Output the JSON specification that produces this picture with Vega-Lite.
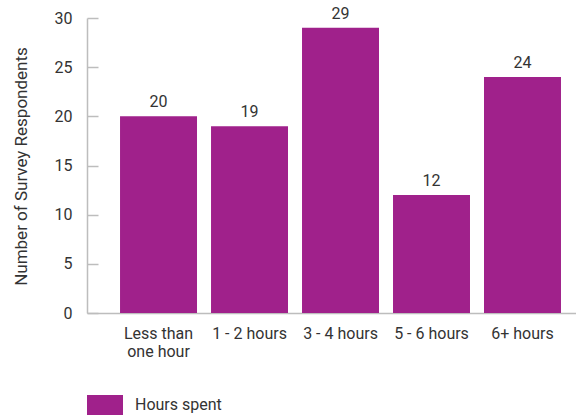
{
  "$schema": "https://vega.github.io/schema/vega-lite/v6.json",
  "width": 489,
  "height": 295,
  "autosize": {"type": "none"},
  "padding": {"left": 87, "top": 18, "right": 0, "bottom": 103},
  "background": "white",
  "config": {
    "view": {"stroke": null},
    "font": "Roboto",
    "text": {"font": "Roboto"}
  },
  "data": {
    "values": [
      {"label": "Less than one hour", "series": "Hours spent", "count": 20},
      {"label": "1 - 2 hours", "series": "Hours spent", "count": 19},
      {"label": "3 - 4 hours", "series": "Hours spent", "count": 29},
      {"label": "5 - 6 hours", "series": "Hours spent", "count": 12},
      {"label": "6+ hours", "series": "Hours spent", "count": 24}
    ]
  },
  "encoding": {
    "x": {
      "field": "label",
      "type": "nominal",
      "sort": null,
      "scale": {"paddingInner": 0.154, "paddingOuter": 0.264, "align": 0.6875},
      "axis": {
        "title": null,
        "labelAngle": 0,
        "ticks": false,
        "labelPadding": 12,
        "labelFont": "Roboto",
        "labelFontSize": 16,
        "labelColor": "#333333",
        "labelLineHeight": 18,
        "labelExpr": "datum.label == 'Less than one hour' ? ['Less than', 'one hour'] : datum.label",
        "domainColor": "#bdbdbd",
        "domainWidth": 1.5
      }
    },
    "y": {
      "field": "count",
      "type": "quantitative",
      "scale": {"domain": [0, 30], "nice": false},
      "axis": {
        "title": "Number of Survey Respondents",
        "titleFont": "Roboto",
        "titleFontSize": 17,
        "titleFontWeight": "normal",
        "titleColor": "#333333",
        "titleX": -66,
        "titleY": 148,
        "titleBaseline": "middle",
        "values": [0, 5, 10, 15, 20, 25, 30],
        "grid": false,
        "tickSize": -11,
        "tickColor": "#bdbdbd",
        "tickWidth": 1.5,
        "domainColor": "#bdbdbd",
        "domainWidth": 1.5,
        "labelPadding": 26,
        "labelFont": "Roboto",
        "labelFontSize": 16,
        "labelColor": "#333333"
      }
    }
  },
  "layer": [
    {
      "mark": {"type": "bar"},
      "encoding": {
        "color": {
          "field": "series",
          "type": "nominal",
          "scale": {"range": ["#A0218B"]},
          "legend": {
            "title": null,
            "orient": "none",
            "legendX": 0,
            "legendY": 369,
            "symbolType": "M-1,-0.5556H1V0.5556H-1Z",
            "symbolSize": 1296,
            "symbolStrokeWidth": 0,
            "symbolOpacity": 1,
            "labelFont": "Roboto",
            "labelFontSize": 16,
            "labelColor": "#333333",
            "labelOffset": 12
          }
        }
      }
    },
    {
      "mark": {"type": "text", "baseline": "bottom", "dy": -6, "font": "Roboto", "fontSize": 16, "color": "#333333"},
      "encoding": {"text": {"field": "count", "type": "quantitative"}}
    }
  ]
}
